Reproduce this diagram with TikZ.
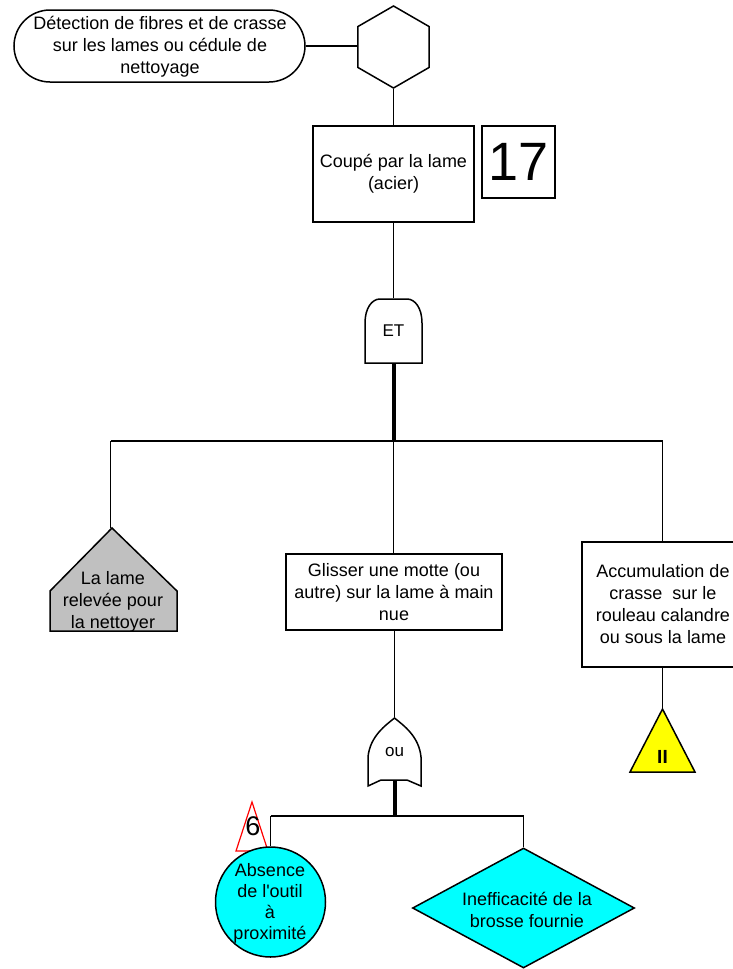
\documentclass[tikz,border=0pt]{standalone}
\usepackage{fontspec}
\setmainfont{Liberation Sans}
\usetikzlibrary{shapes.geometric,shapes.misc,calc}
\definecolor{evcyan}{RGB}{0,255,255}
\definecolor{evgray}{RGB}{192,192,192}
\definecolor{evyellow}{RGB}{255,255,0}
\begin{document}
\begin{tikzpicture}[x=1pt,y=-1pt,
  line width=1.5pt,
  txt/.style={font=\fontsize{18}{22}\selectfont, align=center, inner sep=0pt},
  box/.style={draw, rectangle, inner sep=0pt, txt},
  gatetxt/.style={font=\fontsize{17}{17}\selectfont, inner sep=0pt},
  thickline/.style={line width=4pt},
]
\useasboundingbox (0,0) rectangle (732,969);

% top event and its undeveloped-house marker
\node[draw, rounded rectangle, minimum width=291pt, minimum height=72pt, inner sep=0pt] (det) at (159.5,46) {};
\node[txt] (detText) at (160,47) {Détection de fibres et de crasse\\sur les lames ou cédule de\\nettoyage};
\node[draw, regular polygon, regular polygon sides=6, shape border rotate=30,
      minimum size=82pt, inner sep=0pt] (hex) at (393.5,47) {};
\draw (det.east) -- (det.east -| hex.west);

% cut event
\node[box, minimum width=161pt, minimum height=96pt] (coupe) at (393.5,174) {Coupé par la lame\\(acier)};
\node[draw, minimum width=73pt, minimum height=72pt, inner sep=0pt,
      font=\fontsize{54}{54}\selectfont] (num) at (518.5,162) {17};
\draw (hex.south) -- (coupe.north);

% AND gate
\node[gatetxt, minimum width=57pt, minimum height=65pt] (et) at (393.5,331) {ET};
\draw (365,363) -- (365,323) .. controls (365,308) and (372,299) .. (380,299)
      -- (407,299) .. controls (415,299) and (422,308) .. (422,323) -- (422,363) -- cycle;
\draw (coupe.south) -- (et.north);

% first-level bus
\coordinate (busL) at (110.5,441);
\coordinate (busM) at (393.5,441);
\coordinate (busR) at (662.5,441);
\draw (busL) -- (busR);
\draw[thickline] (et.south) -- (busM);

% house event
\draw[fill=evgray] (112,528) -- (177,591) -- (177,631) -- (50,631) -- (50,591) -- cycle;
\coordinate (houseTop) at (110.5,528);
\node[txt] (house) at (113,602) {La lame\\relevée pour\\la nettoyer};
\draw (busL) -- (houseTop);

% middle intermediate event
\node[box, minimum width=216pt, minimum height=76pt] (glis) at (394,592) {Glisser une motte (ou\\autre) sur la lame à main\\nue};
\draw (busM) -- (busM |- glis.north);

% right intermediate event
\node[box, minimum width=162pt, minimum height=125pt] (acc) at (663,604.5) {Accumulation de\\crasse\ \ sur le\\rouleau calandre\\ou sous la lame};
\draw (busR) -- (busR |- acc.north);
\draw[fill=evyellow] (662.5,709) -- (695,772) -- (630,772) -- cycle;
\coordinate (triTop) at (662.5,709);
\node[font=\bfseries\fontsize{19}{19}\selectfont, inner sep=0pt] (two) at (662.5,757) {II};
\draw (acc.south -| triTop) -- (triTop);

% OR gate
\node[gatetxt, minimum width=55pt, minimum height=68pt] (ou) at (394.5,752) {ou};
\draw (394.5,718) .. controls (403,725) and (419,736) .. (421,757) -- (421,786)
      -- (407,780) -- (381,780) -- (368,786) -- (368,757)
      .. controls (370,736) and (386,725) .. (394.5,718) -- cycle;
\draw (ou.north |- glis.south) -- (ou.north);
\coordinate (ouBase) at (394.5,780);
\coordinate (bus2L) at (270.5,816);
\coordinate (bus2M) at (394.5,816);
\coordinate (bus2R) at (523.5,816);
\draw[thickline] (ouBase) -- (bus2M);
\draw (bus2L) -- (bus2R);

% basic events
\draw[red, line width=1.2pt] (252,802) -- (268,851) -- (236,851) -- cycle;
\node[font=\fontsize{27}{27}\selectfont, inner sep=0pt] (six) at (253,826) {6};
\node[circle, draw, fill=evcyan, minimum size=110pt, inner sep=0pt] (abs) at (270.5,902) {};
\node[txt, font=\fontsize{18}{21}\selectfont] (absText) at (270,903) {Absence\\de l\textquotesingle outil\\à\\proximité};
\draw (bus2L) -- (abs.north);

\node[diamond, draw, fill=evcyan, minimum width=222pt, minimum height=120pt, inner sep=0pt] (ineff) at (523.5,908) {};
\node[txt] (ineffText) at (527,910) {Inefficacité de la\\brosse fournie};
\draw (bus2R) -- (ineff.north);
\end{tikzpicture}
\end{document}
